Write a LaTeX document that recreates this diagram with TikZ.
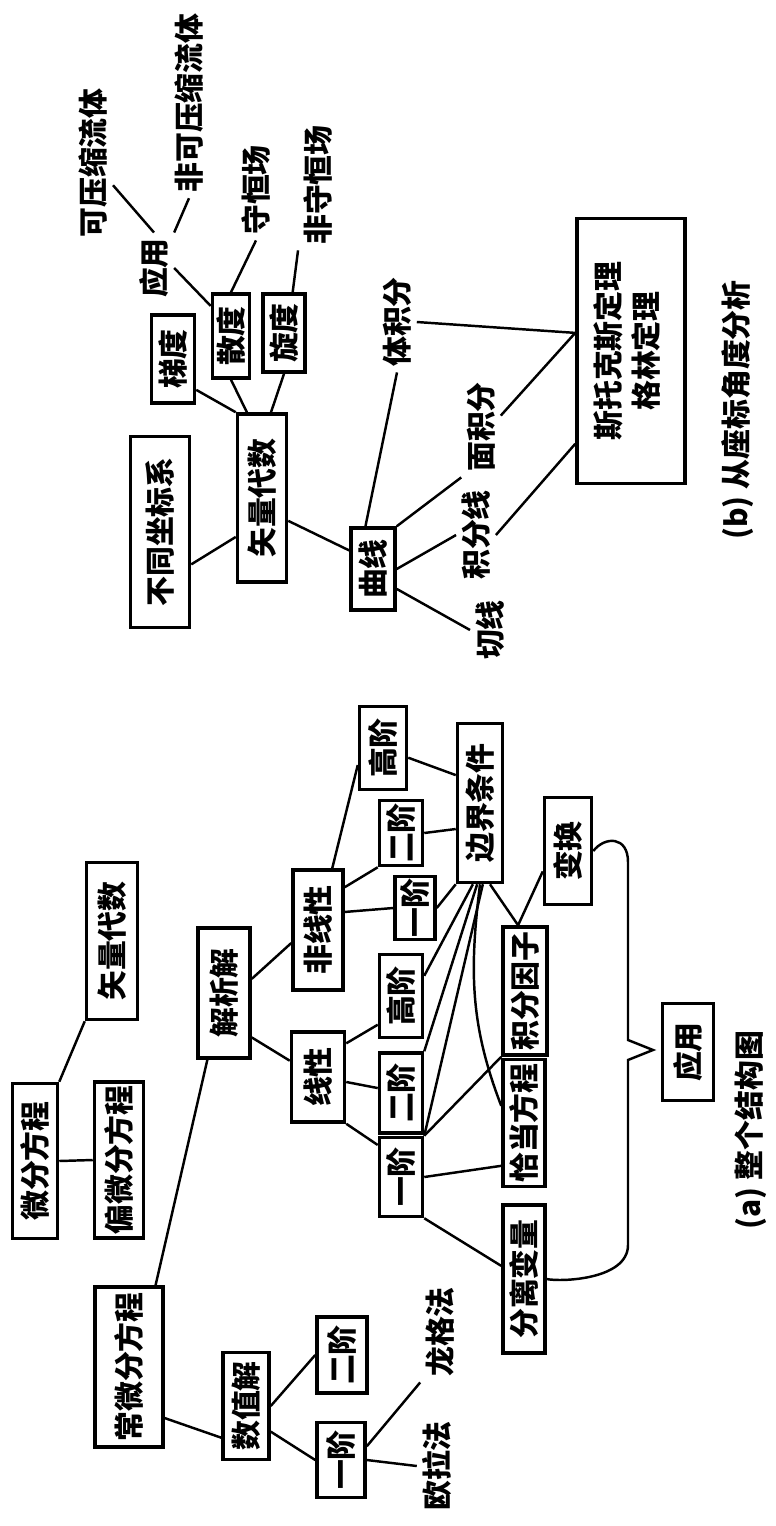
\documentclass[tikz,border=0pt]{standalone}
\usepackage{fontspec}
\usepackage{graphicx}
\newfontfamily\cjk{Noto Sans CJK SC}
\usetikzlibrary{calc}
\newcommand{\vtxt}[1]{\rotatebox{90}{#1}}
\tikzset{
  box/.style={draw, line width=2pt, inner sep=0pt, font=\cjk\bfseries\fontsize{17}{20}\selectfont},
  lbl/.style={inner sep=3pt, font=\cjk\bfseries\fontsize{17}{20}\selectfont},
  sz/.style n args={2}{minimum width=#1*0.02cm, minimum height=#2*0.02cm},
  link/.style={line width=1.4pt},
}

\begin{document}
\begin{tikzpicture}[x=0.02cm, y=-0.02cm]
\useasboundingbox (0,0) rectangle (776,1526);

% (b) coordinates view
\node[box, sz={49}{168}] (shiliangB) at (262,498) {\vtxt{矢量代数}};
\node[box, sz={59}{191}] (zuobiao) at (160,532) {\vtxt{不同坐标系}};
\node[box, sz={43}{88}] (tidu) at (173,359) {\vtxt{梯度}};
\node[box, sz={37}{84}] (sandu) at (231,336) {\vtxt{散度}};
\node[box, sz={42}{78}] (xuandu) at (284,333) {\vtxt{旋度}};
\node[box, sz={44}{82}] (quxian) at (373,569) {\vtxt{曲线}};
\node[box, sz={108}{265}] (stokes) at (631,351) {\vtxt{\begin{tabular}{@{}c@{}}斯托克斯定理\\[1pt]格林定理\end{tabular}}};
\node[lbl] (yingyongB) at (154,268) {\vtxt{应用}};
\node[lbl] (kaya) at (93,163) {\vtxt{可压缩流体}};
\node[lbl] (feikeya) at (189,103) {\vtxt{非可压缩流体}};
\node[lbl] (shouheng) at (256,190) {\vtxt{守恒场}};
\node[lbl] (feishou) at (318,185) {\vtxt{非守恒场}};
\node[lbl] (tiji) at (397,322) {\vtxt{体积分}};
\node[lbl] (mianji) at (481,427) {\vtxt{面积分}};
\node[lbl] (jifenxian) at (476,535) {\vtxt{积分线}};
\node[lbl] (qiexian) at (490,630) {\vtxt{切线}};
\node[lbl] (capB) at (738,410) {\vtxt{(b) 从座标角度分析}};

\draw[link] (shiliangB.-124) -- (zuobiao.-46);
\draw[link] (shiliangB.-41) -- (quxian.142);
\draw[link] (shiliangB.north west) -- (tidu.-53);
\draw[link] (shiliangB.100) -- (sandu.south);
\draw[link] (shiliangB.84) -- (xuandu.south);
\draw[link] (sandu.124) -- (yingyongB.east);
\draw[link] (sandu.north) -- (shouheng.south);
\draw[link] (xuandu.78) -- (feishou.south west);
\draw[link] (yingyongB.north) -- (kaya.-48);
\draw[link] (yingyongB.north east) -- (feikeya.south);
\draw[link] (quxian.100) -- (tiji.south);
\draw[link] (quxian.north east) -- (mianji.south west);
\draw[link] (quxian.east) -- (jifenxian.west);
\draw[link] (quxian.-40) -- (qiexian.west);
\draw[link] (jifenxian.east) -- (stokes.-121);
\draw[link] (mianji.30) -- (stokes.162);
\draw[link] (tiji.east) -- (stokes.162);

% (a) whole structure
\node[box, sz={45}{155}] (weifen) at (35,1161) {\vtxt{微分方程}};
\node[box, sz={49}{156}] (pianwei) at (119,1160) {\vtxt{偏微分方程}};
\node[box, sz={51}{157}] (shiliangA) at (112,941) {\vtxt{矢量代数}};
\node[box, sz={52}{130}] (jiexi) at (224,993) {\vtxt{解析解}};
\node[box, sz={68}{160}] (changwei) at (129,1367) {\vtxt{常微分方程}};
\node[box, sz={46}{107}] (shuzhi) at (246,1406) {\vtxt{数值解}};
\node[box, sz={50}{76}] (erjieS) at (342,1355) {\vtxt{二阶}};
\node[box, sz={48}{75}] (yijieS) at (341,1460) {\vtxt{一阶}};
\node[lbl] (oula) at (437,1466) {\vtxt{欧拉法}};
\node[lbl] (longge) at (440,1332) {\vtxt{龙格法}};
\node[box, sz={53}{90}] (xianxing) at (318,1077) {\vtxt{线性}};
\node[box, sz={50}{120}] (feixian) at (318,930) {\vtxt{非线性}};
\node[box, sz={47}{83}] (gaoN) at (383,748) {\vtxt{高阶}};
\node[box, sz={43}{65}] (erN) at (401,833) {\vtxt{二阶}};
\node[box, sz={40}{63}] (yiN) at (415,908) {\vtxt{一阶}};
\node[box, sz={45}{159}] (bianjie) at (480,803) {\vtxt{边界条件}};
\node[box, sz={43}{83}] (gaoL) at (401,996) {\vtxt{高阶}};
\node[box, sz={43}{80}] (erL) at (401,1093) {\vtxt{二阶}};
\node[box, sz={43}{79}] (yiL) at (401,1177) {\vtxt{一阶}};
\node[box, sz={44}{128}] (jifen) at (525,991) {\vtxt{积分因子}};
\node[box, sz={42}{127}] (qiadang) at (524,1123) {\vtxt{恰当方程}};
\node[box, sz={42}{148}] (fenli) at (524,1279) {\vtxt{分离变量}};
\node[box, sz={47}{107}] (bianhuan) at (568,851) {\vtxt{变换}};
\node[box, sz={51}{97}] (yingyongA) at (688,1052) {\vtxt{应用}};
\node[lbl] (capA) at (751,1130) {\vtxt{(a) 整个结构图}};
\coordinate (tip) at (653,1050);

\draw[link] (weifen.north east) -- (shiliangA.south west);
\draw[link] (weifen.east) -- (pianwei.west);
\draw[link] (changwei.72) -- (jiexi.-104);
\draw[link] (changwei.-55) -- (shuzhi.-128);
\draw[link] (shuzhi.east) -- (erjieS.west);
\draw[link] (shuzhi.-46) -- (yijieS.west);
\draw[link] (yijieS.east) -- (oula.west);
\draw[link] (yijieS.28) -- (longge.south west);
\draw[link] (jiexi.-58) -- (xianxing.150);
\draw[link] (jiexi.27) -- (feixian.-154);
\draw[link] (feixian.77) -- (gaoN.-146);
\draw[link] (feixian.58) -- (erN.south west);
\draw[link] (feixian.34) -- (yiN.west);
\draw[link] (gaoN.-21) -- (bianjie.131);
\draw[link] (erN.east) -- (bianjie.-133);
\draw[link] (yiN.east) -- (bianjie.south west);
\draw[link] (xianxing.50) -- (gaoL.-129);
\draw[link] (xianxing.-10) -- (erL.168);
\draw[link] (xianxing.south east) -- (yiL.126);
\draw[link] (gaoL.41) -- (bianjie.-95);
\draw[link] (erL.north east) -- (bianjie.-92);
\draw[link] (yiL.north east) -- (bianjie.-88);
\draw[link] (yiL.north east) -- (jifen.south west);
\draw[link] (yiL.east) -- (qiadang.-118);
\draw[link] (yiL.south east) -- (fenli.150);
\draw[link] (bianjie.-83) -- (jifen.96);
\draw[link] (bianjie.-90) to[out=-97, in=111] (qiadang.143);
\draw[link] (bianhuan.-141) -- (jifen.96);
\draw[link] (bianhuan.east) .. controls (605,836) and (628,836) .. (628,862)
  -- (628,1040) -- (tip) -- (628,1060) -- (628,1245)
  .. controls (628,1280) and (560,1282) .. (fenli.east);
\end{tikzpicture}
\end{document}
